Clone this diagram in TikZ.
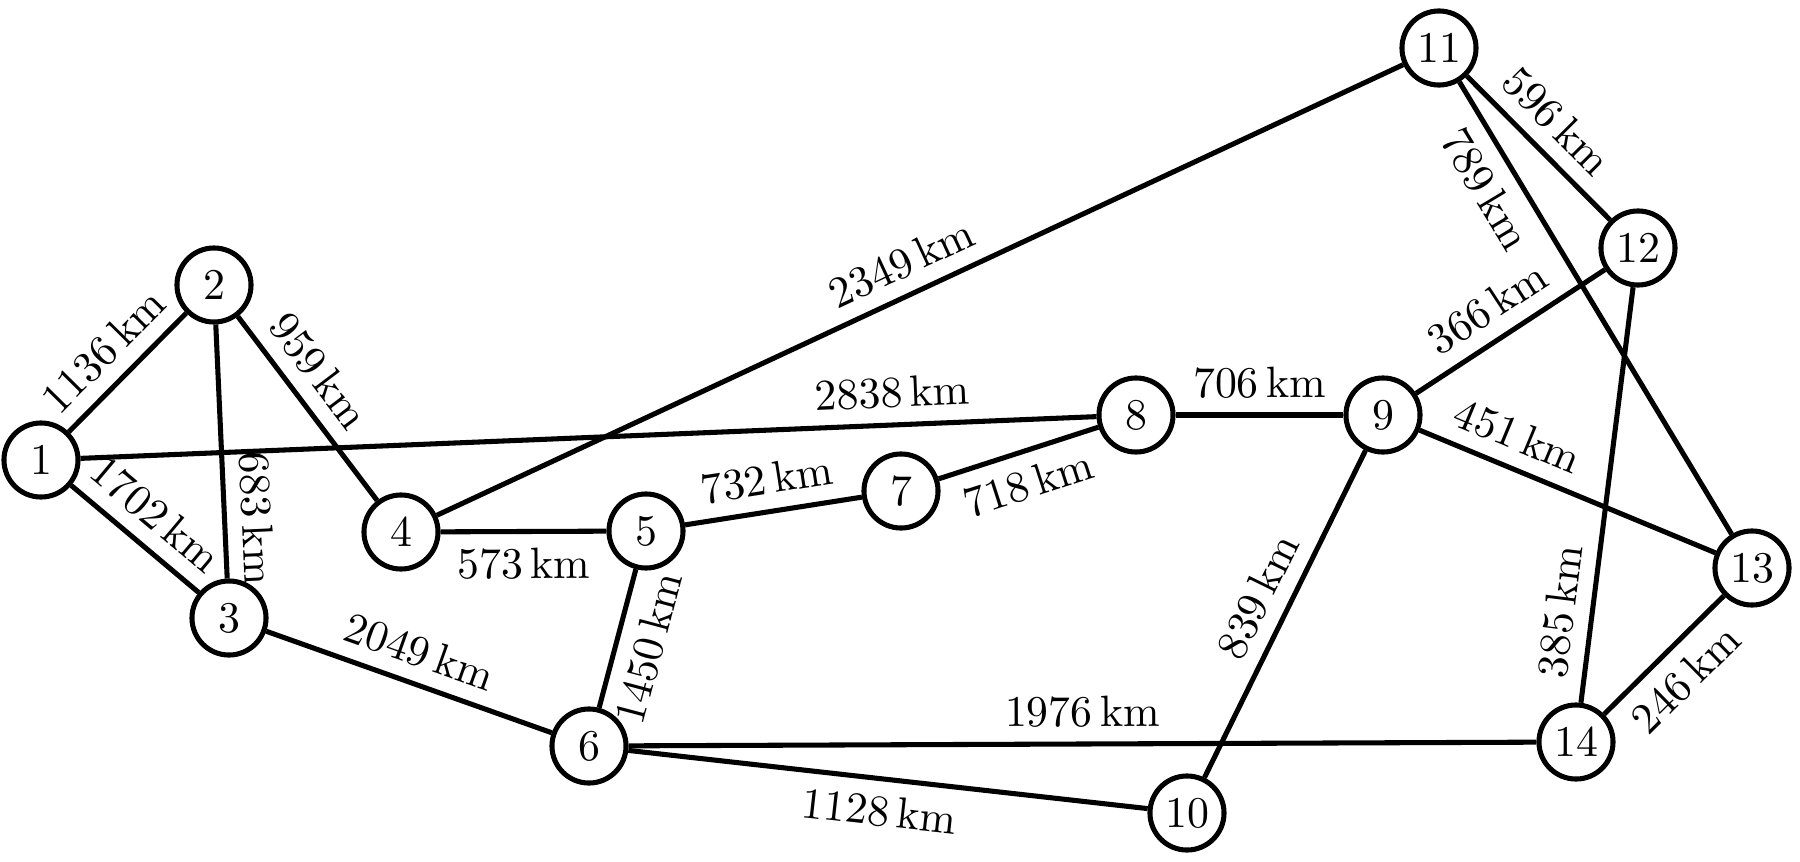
\documentclass[tikz,border=0pt]{standalone}
\begin{document}
\begin{tikzpicture}[x=0.0083333cm, y=-0.0083333cm,
  city/.style={circle, draw, line width=1.2pt, minimum size=0.617cm, inner sep=0pt, font=\fontsize{10.4}{12}\selectfont},
  link/.style={line width=1.2pt},
  dist/.style={sloped, font=\fontsize{10.4}{12}\selectfont}]
\useasboundingbox (0,0) rectangle (1800,862);
\node[city] (n1)  at (41,460)   {1};
\node[city] (n2)  at (214,285)  {2};
\node[city] (n3)  at (229,618)  {3};
\node[city] (n4)  at (401,532)  {4};
\node[city] (n5)  at (646,531)  {5};
\node[city] (n6)  at (589,746)  {6};
\node[city] (n7)  at (901,491)  {7};
\node[city] (n8)  at (1136,415) {8};
\node[city] (n9)  at (1383,415) {9};
\node[city] (n10) at (1187,813) {10};
\node[city] (n11) at (1439,48)  {11};
\node[city] (n12) at (1638,248) {12};
\node[city] (n13) at (1752,568) {13};
\node[city] (n14) at (1576,742) {14};

\draw[link] (n1) -- node[dist, above, pos=0.49] {1136\,km} (n2);
\draw[link] (n1) -- node[dist, above, pos=0.50] {1702\,km} (n3);
\draw[link] (n2) -- node[dist, above, pos=0.77] {683\,km} (n3);
\draw[link] (n2) -- node[dist, above, pos=0.40] {959\,km} (n4);
\draw[link] (n1) -- node[dist, above, pos=0.80] {2838\,km} (n8);
\draw[link] (n4) -- node[dist, above, pos=0.495] {2349\,km} (n11);
\draw[link] (n4) -- node[dist, below, pos=0.5] {573\,km} (n5);
\draw[link] (n3) -- node[dist, above, pos=0.50] {2049\,km} (n6);
\draw[link] (n5) -- node[dist, below, pos=0.51] {1450\,km} (n6);
\draw[link] (n5) -- node[dist, above, pos=0.49] {732\,km} (n7);
\draw[link] (n7) -- node[dist, below, pos=0.50] {718\,km} (n8);
\draw[link] (n8) -- node[dist, above, pos=0.5] {706\,km} (n9);
\draw[link] (n9) -- node[dist, above, pos=0.47] {366\,km} (n12);
\draw[link] (n9) -- node[dist, above, pos=0.29] {451\,km} (n13);
\draw[link] (n9) -- node[dist, above, pos=0.49] {839\,km} (n10);
\draw[link] (n11) -- node[dist, above, pos=0.47] {596\,km} (n12);
\draw[link] (n11) -- node[dist, below, pos=0.20] {789\,km} (n13);
\draw[link] (n12) -- node[dist, above, pos=0.79] {385\,km} (n14);
\draw[link] (n14) -- node[dist, below, pos=0.49] {246\,km} (n13);
\draw[link] (n6) -- node[dist, above, pos=0.5] {1976\,km} (n14);
\draw[link] (n6) -- node[dist, below, pos=0.49] {1128\,km} (n10);
\end{tikzpicture}
\end{document}
